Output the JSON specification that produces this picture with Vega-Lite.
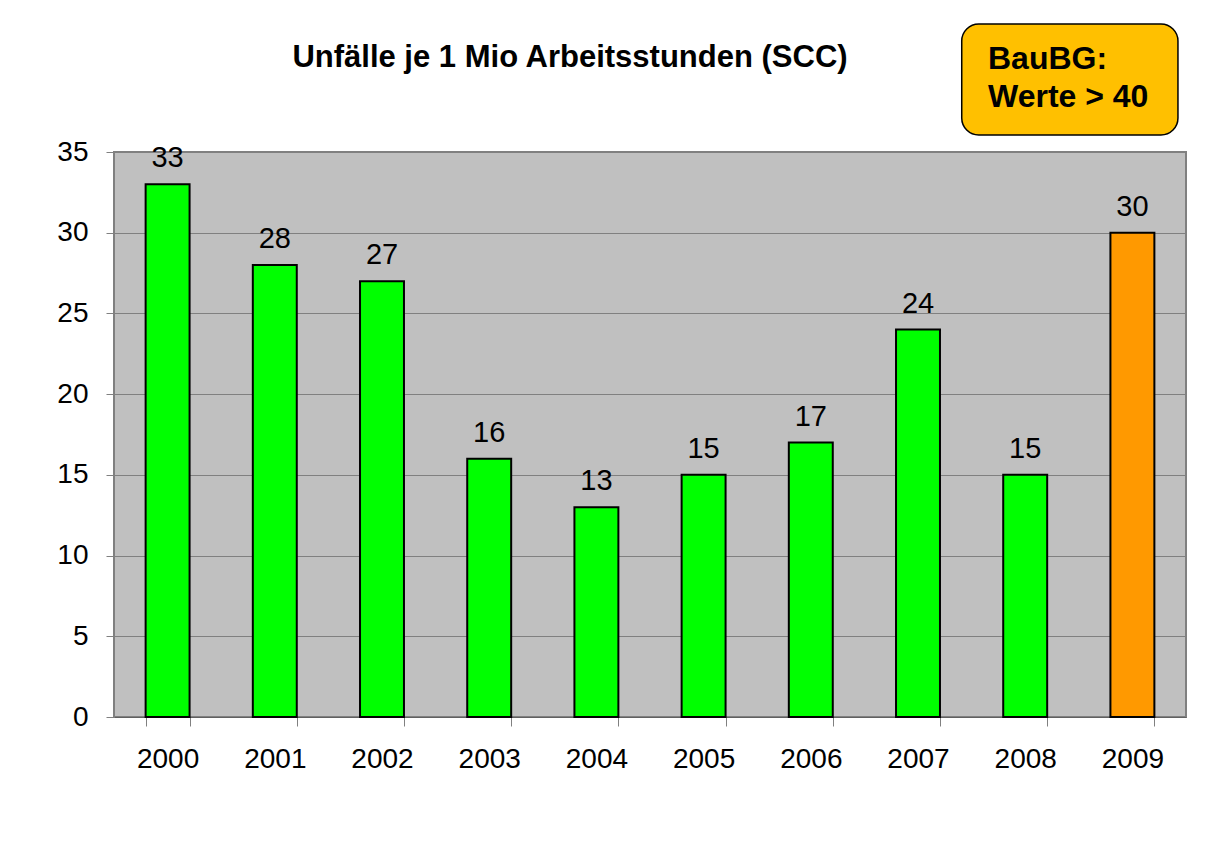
{
  "$schema": "https://vega.github.io/schema/vega-lite/v6.json",
  "width": 1072,
  "height": 565,
  "autosize": {"type": "none"},
  "padding": {"left": 114, "top": 152, "right": 29, "bottom": 124},
  "background": "white",
  "title": {
    "text": "Unfälle je 1 Mio Arbeitsstunden (SCC)",
    "font": "Liberation Sans",
    "fontSize": 31,
    "fontWeight": "bold",
    "color": "black",
    "anchor": "middle",
    "frame": "group",
    "baseline": "alphabetic",
    "dx": -80,
    "offset": -75
  },
  "config": {
    "view": {"fill": "#C0C0C0", "stroke": "#808080", "strokeWidth": 2},
    "axis": {
      "labelFont": "Liberation Sans",
      "labelFontSize": 28,
      "labelColor": "black",
      "domainColor": "#808080",
      "tickColor": "#808080",
      "gridColor": "#808080",
      "title": null
    }
  },
  "resolve": {"scale": {"x": "independent"}},
  "layer": [
    {
      "data": {
        "values": [
          {"Jahr": "2000", "Wert": 33},
          {"Jahr": "2001", "Wert": 28},
          {"Jahr": "2002", "Wert": 27},
          {"Jahr": "2003", "Wert": 16},
          {"Jahr": "2004", "Wert": 13},
          {"Jahr": "2005", "Wert": 15},
          {"Jahr": "2006", "Wert": 17},
          {"Jahr": "2007", "Wert": 24},
          {"Jahr": "2008", "Wert": 15},
          {"Jahr": "2009", "Wert": 30}
        ]
      },
      "encoding": {
        "x": {
          "field": "Jahr",
          "type": "nominal",
          "sort": null,
          "scale": {"paddingInner": 0.59, "paddingOuter": 0.295},
          "axis": {
            "labelAngle": 0,
            "tickBand": "extent",
            "tickSize": 9,
            "labelPadding": 19,
            "grid": false,
            "domainColor": "#606060"
          }
        },
        "y": {
          "field": "Wert",
          "type": "quantitative",
          "scale": {"domain": [0, 35], "nice": false},
          "axis": {
            "values": [0, 5, 10, 15, 20, 25, 30, 35],
            "tickSize": 8,
            "labelPadding": 18,
            "grid": true,
            "gridWidth": 1
          }
        }
      },
      "layer": [
        {
          "mark": {"type": "bar", "stroke": "black", "strokeWidth": 2},
          "encoding": {
            "color": {
              "condition": {"test": "datum.Jahr === '2009'", "value": "#FF9900"},
              "value": "#00FF00"
            }
          }
        },
        {
          "mark": {
            "type": "text",
            "font": "Liberation Sans",
            "fontSize": 29,
            "color": "black",
            "baseline": "alphabetic",
            "dy": -17
          },
          "encoding": {"text": {"field": "Wert", "type": "quantitative"}}
        }
      ]
    },
    {
      "data": {
        "values": [
          {"x1": 7.908, "x2": 9.925, "y1": 36.05, "y2": 42.93, "tx": 8.153, "ty1": 40.14, "ty2": 37.79, "z1": "BauBG:", "z2": "Werte > 40"}
        ]
      },
      "layer": [
        {
          "mark": {"type": "rect", "fill": "#FFC000", "stroke": "black", "strokeWidth": 1.5, "cornerRadius": 17, "clip": false},
          "encoding": {
            "x": {"field": "x1", "type": "quantitative", "scale": {"domain": [0, 10], "nice": false, "zero": false}, "axis": null},
            "x2": {"field": "x2"},
            "y": {"field": "y1", "type": "quantitative", "scale": {"domain": [0, 35], "nice": false}},
            "y2": {"field": "y2"}
          }
        },
        {
          "mark": {"type": "text", "font": "Liberation Sans", "fontSize": 32, "fontWeight": "bold", "align": "left", "baseline": "alphabetic", "color": "black"},
          "encoding": {
            "x": {"field": "tx", "type": "quantitative", "scale": {"domain": [0, 10], "nice": false, "zero": false}, "axis": null},
            "y": {"field": "ty1", "type": "quantitative"},
            "text": {"field": "z1"}
          }
        },
        {
          "mark": {"type": "text", "font": "Liberation Sans", "fontSize": 32, "fontWeight": "bold", "align": "left", "baseline": "alphabetic", "color": "black"},
          "encoding": {
            "x": {"field": "tx", "type": "quantitative", "scale": {"domain": [0, 10], "nice": false, "zero": false}, "axis": null},
            "y": {"field": "ty2", "type": "quantitative"},
            "text": {"field": "z2"}
          }
        }
      ]
    }
  ]
}
